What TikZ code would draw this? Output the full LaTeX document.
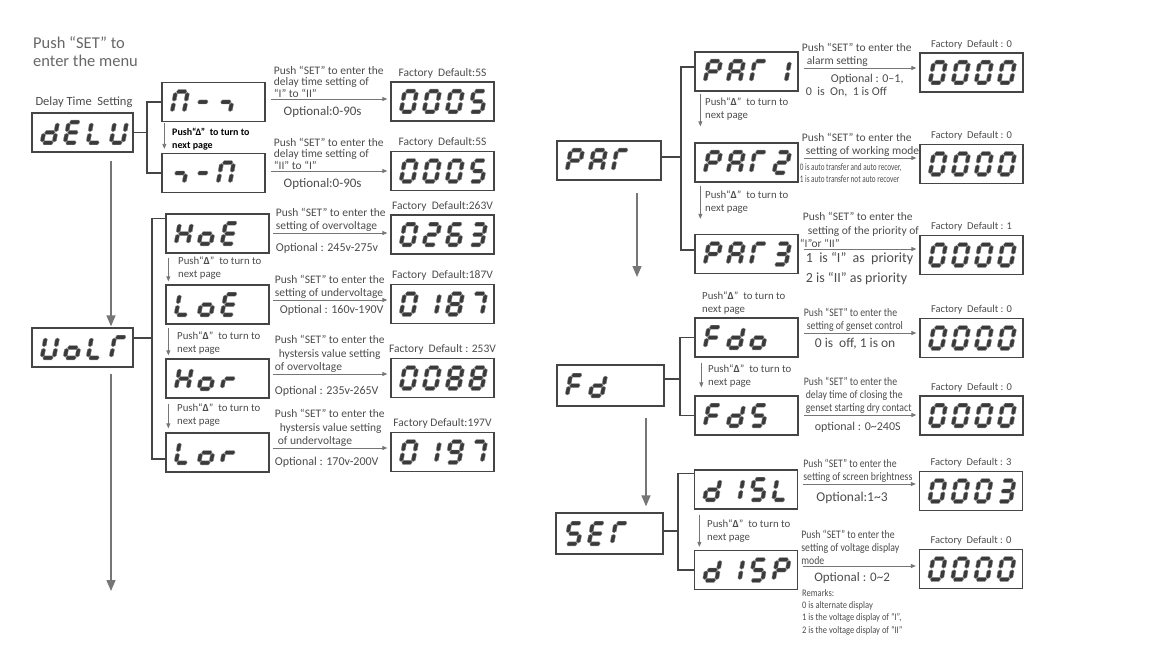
\documentclass[tikz,border=0pt]{standalone}
\usepackage{fontspec}
\setmainfont{Carlito}
\newfontfamily\narrowfont[FakeStretch=0.85]{Carlito}
\newfontfamily\tightfont[FakeStretch=0.72]{Carlito}
\usetikzlibrary{calc,arrows.meta}

\definecolor{txtgray}{HTML}{4C4C4C}
\definecolor{linegray}{HTML}{767676}
\definecolor{boxgray}{HTML}{454545}
\definecolor{seggray}{HTML}{3A3A3A}

% one segment of a display character
\newcommand\lcdh[3]{\fill[segfill] (#1,#3) -- (#1+1.3,#3-2) -- (#2-1.3,#3-2) -- (#2,#3) -- (#2-1.3,#3+2) -- (#1+1.3,#3+2) -- cycle;}
\newcommand\lcdv[3]{\fill[segfill] (#1,#2) -- (#1+2,#2+1.3) -- (#1+2,#3-1.3) -- (#1,#3) -- (#1-2,#3-1.3) -- (#1-2,#2+1.3) -- cycle;}
\newcommand\lcdsega{\lcdh{0.8}{11.2}{-10.3}}
\newcommand\lcdsegg{\lcdh{0.8}{11.2}{0}}
\newcommand\lcdsegd{\lcdh{0.8}{11.2}{10.3}}
\newcommand\lcdsegf{\lcdv{0}{-9.5}{-0.8}}
\newcommand\lcdsege{\lcdv{0}{0.8}{9.5}}
\newcommand\lcdsegb{\lcdv{12}{-9.5}{-0.8}}
\newcommand\lcdsegc{\lcdv{12}{0.8}{9.5}}

% characters as lists of segments
\newcommand\defchar[2]{\expandafter\def\csname lcdchar#1\endcsname{#2}}
\defchar{d}{b,c,d,e,g}
\defchar{E}{a,d,e,f,g}
\defchar{L}{d,e,f}
\defchar{U}{b,c,d,e,f}
\defchar{H}{b,c,e,f,g}
\defchar{o}{c,d,e,g}
\defchar{r}{e,g}
\defchar{G}{a,e,f}
\defchar{P}{a,b,e,f,g}
\defchar{A}{a,b,c,e,f,g}
\defchar{F}{a,e,f,g}
\defchar{n}{a,b,c,e,f}
\defchar{j}{c,g}
\defchar{m}{g}
\defchar{0}{a,b,c,d,e,f}
\defchar{1}{b,c}
\defchar{2}{a,b,d,e,g}
\defchar{3}{a,b,c,d,g}
\defchar{5}{a,c,d,f,g}
\defchar{6}{a,c,d,e,f,g}
\defchar{7}{a,b,c}
\defchar{8}{a,b,c,d,e,f,g}
\defchar{9}{a,b,c,d,f,g}

\tikzset{
  segfill/.style={fill=seggray, draw=seggray!60, line width=0.4pt},
  pics/lcdchar/.style={code={%
    \begin{scope}[xslant=0.18]
      \expandafter\let\expandafter\seglist\csname lcdchar#1\endcsname
      \foreach \s in \seglist {\csname lcdseg\s\endcsname}
    \end{scope}}},
  disp/.style={draw=boxgray, line width=1.3pt, minimum width=103pt, minimum height=39pt, inner sep=0pt},
  txt/.style={inner sep=0pt, text=txtgray, align=left, font=\fontsize{11.5}{13.5}\selectfont},
  ntxt/.style={txt, font=\narrowfont\fontsize{11.5}{13}\selectfont},
  pushtxt/.style={txt, anchor=north west, font=\fontsize{10.8}{12.5}\selectfont},
  fdtxt/.style={txt, anchor=base, font=\fontsize{11.5}{13}\selectfont},
  rfdtxt/.style={txt, anchor=base, font=\fontsize{10.5}{12}\selectfont},
  brk/.style={draw=boxgray, line width=1.1pt},
  setarr/.style={draw=linegray, line width=0.9pt, shorten >=3pt, -{Triangle[length=5pt,width=4pt]}},
  pusharr/.style={draw=linegray, line width=0.9pt, -{Triangle[length=5pt,width=4pt]}},
  mainarr/.style={draw=linegray, line width=1.3pt, -{Triangle[length=11pt,width=9pt]}},
}

% a row of characters inside a display box
\newcommand\lcd[2]{\foreach \ch [count=\i] in {#2}{\pic at ($(#1.west)+({12.5+23*(\i-1)},0)$) {lcdchar=\ch};}}

\begin{document}
\begin{tikzpicture}[x=1pt,y=-1pt]
\useasboundingbox (0,0) rectangle (1159,650);

% Left menu: delay time and voltage
\node[txt, anchor=north west, text=txtgray!85, font=\fontsize{16.5}{18.5}\selectfont] (menu) at (33,36) {Push “SET” to\\enter the menu};
\node[txt, font=\fontsize{12.5}{14}\selectfont] (dlabel) at (84,102) {Delay Time\ \ Setting};

\node[disp, minimum width=101pt] (dELU) at (82.5,132.5) {};
\node[disp] (nr) at (213.5,102) {};
\node[disp] (rn) at (213.5,173) {};
\node[disp, minimum width=101pt] (UoLF) at (82.5,347.5) {};
\node[disp] (HoE) at (217.5,233.5) {};
\node[disp] (LoE) at (217.5,304.5) {};
\node[disp] (Hor) at (217.5,378.5) {};
\node[disp] (Lor) at (217.5,452.5) {};

% factory default displays
\node[disp] (fnr) at (442.5,101.5) {};
\node[disp] (frn) at (442.5,171) {};
\node[disp] (fHoE) at (442.5,234.5) {};
\node[disp] (fLoE) at (442.5,304) {};
\node[disp] (fHor) at (442.5,378) {};
\node[disp] (fLor) at (442.5,452) {};

\lcd{dELU}{d,E,L,U}
\lcd{nr}{n,m,j}
\lcd{rn}{j,m,n}
\lcd{UoLF}{U,o,L,G}
\lcd{HoE}{H,o,E}
\lcd{LoE}{L,o,E}
\lcd{Hor}{H,o,r}
\lcd{Lor}{L,o,r}
\lcd{fnr}{0,0,0,5}
\lcd{frn}{0,0,0,5}
\lcd{fHoE}{0,2,6,3}
\lcd{fLoE}{0,1,8,7}
\lcd{fHor}{0,0,8,8}
\lcd{fLor}{0,1,9,7}

% Brackets
\coordinate (bL1) at (147,132.5);
\draw[brk] (dELU.east) -- (bL1);
\draw[brk] (nr.west) -| (bL1) |- (rn.west);
\coordinate (bL2) at (152,338);
\draw[brk] (UoLF.east |- bL2) -- (bL2);
\draw[brk] ($(HoE.north west)+(0,5)$) -| (bL2) |- ($(Lor.west)+(0,6.5)$);

% Main arrows
\coordinate (endL) at (111,591);
\draw[mainarr] ($(dELU.south)+(28.5,8)$) -- ($(UoLF.north)+(28.5,-1)$);
\draw[mainarr] ($(UoLF.south)+(28.5,6)$) -- (endL);

% Next page arrows
\draw[pusharr] ($(nr.south west)+(3,1)$) -- ($(rn.north west)+(3,-4)$);
\draw[pusharr] ($(HoE.south west)+(3,4)$) -- ($(LoE.north west)+(3,-3)$);
\draw[pusharr] ($(LoE.south west)+(3,3)$) -- ($(Hor.north west)+(3,-3)$);
\draw[pusharr] ($(Hor.south west)+(3,5)$) -- ($(Lor.north west)+(3,-4)$);
\node[pushtxt, text=black, font=\bfseries\fontsize{10}{13}\selectfont] at (172,128) {Push“Δ”\ \ to turn to\\next page};
\node[pushtxt] at (178,257) {Push“\textbf{Δ}”\ \ to turn to\\next page};
\node[pushtxt] at (177,332) {Push“\textbf{Δ}”\ \ to turn to\\next page};
\node[pushtxt] at (177,404) {Push“\textbf{Δ}”\ \ to turn to\\next page};

% Rows of the left menu
\coordinate (anr) at ($(nr.east)+(5,-3)$);
\draw[setarr] (anr) -- (anr -| fnr.west);
\node[txt, anchor=south west, font=\fontsize{11.5}{11.8}\selectfont] at ($(anr)+(3,-1)$) {Push “SET” to enter the\\delay time setting of\\“I” to “II”};
\node[txt, anchor=north, font=\fontsize{13}{15}\selectfont] at ($(anr)+(52,7)$) {Optional:0-90s};
\node[fdtxt] at ($(fnr.north)+(0,-5)$) {Factory\ \ Default:5S};

\coordinate (arn) at ($(rn.east)+(5,-2)$);
\draw[setarr] (arn) -- (arn -| frn.west);
\node[txt, anchor=south west, font=\fontsize{11.5}{11.8}\selectfont] at ($(arn)+(3,-1)$) {Push “SET” to enter the\\delay time setting of\\“II” to “I”};
\node[txt, anchor=north, font=\fontsize{13}{15}\selectfont] at ($(arn)+(52,7)$) {Optional:0-90s};
\node[fdtxt] at ($(frn.north)+(0,-5)$) {Factory\ \ Default:5S};

\coordinate (aHoE) at ($(HoE.east)+(3,-0.5)$);
\draw[setarr] (aHoE) -- (aHoE -| fHoE.west);
\node[txt, anchor=south west] at ($(aHoE)+(3,-1)$) {Push “SET” to enter the\\setting of overvoltage};
\node[txt, anchor=north west, font=\fontsize{12}{14}\selectfont] at ($(aHoE)+(3,10)$) {Optional : 245v-275v};
\node[fdtxt] at ($(fHoE.north)+(0,-5)$) {Factory\ \ Default:263V};

\coordinate (aLoE) at ($(LoE.east)+(3,-4.5)$);
\draw[setarr] (aLoE) -- (aLoE -| fLoE.west);
\node[txt, anchor=south west] at ($(aLoE)+(2,-1)$) {Push “SET” to enter the\\setting of undervoltage};
\node[txt, anchor=north west, font=\fontsize{12}{14}\selectfont] at ($(aLoE)+(7,5)$) {Optional : 160v-190V};
\node[fdtxt] at ($(fLoE.north)+(0,-5)$) {Factory\ \ Default:187V};

\coordinate (aHor) at ($(Hor.east)+(3,-4.5)$);
\draw[setarr] (aHor) -- (aHor -| fHor.west);
\node[txt, anchor=south west] at ($(aHor)+(2,-1)$) {Push “SET” to enter the\\\hspace{4pt}hystersis value setting\\of overvoltage};
\node[txt, anchor=north west, font=\fontsize{12}{14}\selectfont] at ($(aHor)+(2,12)$) {Optional : 235v-265V};
\node[fdtxt] at ($(fHor.north)+(0,-5)$) {Factory\ \ Default : 253V};

\coordinate (aLor) at ($(Lor.east)+(3,-4.5)$);
\draw[setarr] (aLor) -- (aLor -| fLor.west);
\node[txt, anchor=south west] at ($(aLor)+(2,-1)$) {Push “SET” to enter the\\\hspace{5pt}hystersis value setting\\\hspace{3pt}of undervoltage};
\node[txt, anchor=north west, font=\fontsize{12}{14}\selectfont] at ($(aLor)+(2,9)$) {Optional : 170v-200V};
\node[fdtxt] at ($(fLor.north)+(0,-5)$) {Factory Default:197V};

% Right menu: parameters, genset and display
\node[disp, minimum width=104pt] (PAr) at (609,160.5) {};
\node[disp] (PAR1) at (746.5,71.5) {};
\node[disp] (PAR2) at (746.5,162.5) {};
\node[disp] (PAR3) at (746.5,254) {};
\node[disp, minimum width=107pt, minimum height=41pt] (Fd) at (610.5,385.5) {};
\node[disp] (Fdo) at (746.5,337.5) {};
\node[disp] (FdS) at (746.5,415.5) {};
\node[disp, minimum width=107pt, minimum height=41pt] (SET) at (609.5,533.5) {};
\node[disp] (dISL) at (746,489.5) {};
\node[disp] (dISP) at (746,570) {};

\node[disp] (fPAR1) at (971.5,72.5) {};
\node[disp] (fPAR2) at (971.5,164) {};
\node[disp] (fPAR3) at (971.5,255) {};
\node[disp] (fFdo) at (971.5,338) {};
\node[disp] (fFdS) at (971.5,415.5) {};
\node[disp] (fdISL) at (971,491) {};
\node[disp] (fdISP) at (971,569) {};

\lcd{PAr}{P,A,G}
\lcd{PAR1}{P,A,G,1}
\lcd{PAR2}{P,A,G,2}
\lcd{PAR3}{P,A,G,3}
\lcd{Fd}{F,d}
\lcd{Fdo}{F,d,o}
\lcd{FdS}{F,d,5}
\lcd{SET}{5,E,G}
\lcd{dISL}{d,1,5,L}
\lcd{dISP}{d,1,5,P}
\lcd{fPAR1}{0,0,0,0}
\lcd{fPAR2}{0,0,0,0}
\lcd{fPAR3}{0,0,0,0}
\lcd{fFdo}{0,0,0,0}
\lcd{fFdS}{0,0,0,0}
\lcd{fdISL}{0,0,0,3}
\lcd{fdISP}{0,0,0,0}

% Brackets
\coordinate (bR1) at (681,157);
\draw[brk] (PAr.east |- bR1) -- (bR1);
\draw[brk] ($(PAR1.west)+(0,-4.5)$) -| (bR1) |- ($(PAR3.west)+(0,-4)$);
\coordinate (bR2) at (680,379);
\draw[brk] (Fd.east |- bR2) -- (bR2);
\draw[brk] (Fdo.west) -| (bR2) |- (FdS.west);
\coordinate (bR3) at (678,531);
\draw[brk] (SET.east |- bR3) -- (bR3);
\draw[brk] ($(dISL.north west)+(0,4)$) -| (bR3) |- (dISP.west);

% Main arrows
\coordinate (endR) at (637,277);
\draw[mainarr] ($(PAr.south)+(28,12)$) -- (endR);
\draw[mainarr] ($(Fd.south)+(35.5,11)$) -- ($(SET.north)+(36.5,-6)$);

% Next page arrows
\draw[pusharr] ($(PAR1.south west)+(6,2)$) -- ($(PAR2.north west)+(6,-16)$);
\draw[pusharr] ($(PAR2.south west)+(6,3)$) -- ($(PAR3.north west)+(6,-15)$);
\draw[pusharr] ($(Fdo.south west)+(7,5)$) -- ($(FdS.north west)+(7,-8)$);
\draw[pusharr] ($(dISL.south west)+(5.5,5)$) -- ($(dISP.north west)+(5.5,-3)$);
\node[pushtxt] at (705,98) {Push“\textbf{Δ}”\ \ to turn to\\next page};
\node[pushtxt] at (705,191) {Push“\textbf{Δ}”\ \ to turn to\\next page};
\node[pushtxt] at (702,292) {Push“\textbf{Δ}”\ \ to turn to\\next page};
\node[pushtxt] at (708,365) {Push“\textbf{Δ}”\ \ to turn to\\next page};
\node[pushtxt] at (707,520) {Push“\textbf{Δ}”\ \ to turn to\\next page};

% Rows of the right menu
\coordinate (aPAR1) at ($(PAR1.east)+(5,-3.5)$);
\draw[setarr] (aPAR1) -- (aPAR1 -| fPAR1.west);
\node[txt, anchor=south west] at ($(aPAR1)+(-2,-1)$) {Push “SET” to enter the\\\hspace{5pt}alarm setting};
\node[txt, anchor=north west, font=\fontsize{12}{12.5}\selectfont] at ($(aPAR1)+(2,6)$) {\hspace{25pt}Optional : 0–1,\\0\ \ is\ \ On,\ \ 1 is Off};
\node[rfdtxt] at ($(fPAR1.north)+(0,-5)$) {Factory\ \ Default : 0};

\coordinate (aPAR2) at ($(PAR2.east)+(5,-4.5)$);
\draw[setarr] (aPAR2) -- (aPAR2 -| fPAR2.west);
\node[txt, anchor=south west] at ($(aPAR2)+(-2,-1)$) {Push “SET” to enter the\\\hspace{4pt}setting of working mode};
\node[txt, anchor=north west, font=\tightfont\fontsize{10}{12}\selectfont] at ($(aPAR2)+(-4,5)$) {0 is auto transfer and auto recover,\\1 is auto transfer not auto recover};
\node[rfdtxt] at ($(fPAR2.north)+(0,-5)$) {Factory\ \ Default : 0};

\coordinate (aPAR3) at ($(PAR3.east)+(5,-5)$);
\draw[setarr] (aPAR3) -- (aPAR3 -| fPAR3.west);
\node[txt, anchor=south west] at ($(aPAR3)+(-1,-1)$) {Push “SET” to enter the\\\hspace{5pt}setting of the priority of\\\hspace{-3pt}“I”or “II”};
\node[txt, anchor=north west, font=\fontsize{14}{20}\selectfont] at ($(aPAR3)+(2,3)$) {1\ \ is “I”\ \ as\ \ priority\\2 is “II” as priority};
\node[rfdtxt] at ($(fPAR3.north)+(0,-5)$) {Factory\ \ Default : 1};

\coordinate (aFdo) at ($(Fdo.east)+(5,-4.5)$);
\draw[setarr] (aFdo) -- (aFdo -| fFdo.west);
\node[ntxt, anchor=south west] at ($(aFdo)+(0,-1)$) {Push “SET” to enter the\\\hspace{3pt}setting of genset control};
\node[txt, anchor=north west, font=\fontsize{13.5}{15}\selectfont] at ($(aFdo)+(11,5)$) {0 is\ \ off, 1 is on};
\node[rfdtxt] at ($(fFdo.north)+(0,-5)$) {Factory\ \ Default : 0};

\coordinate (aFdS) at ($(FdS.east)+(5,-0.5)$);
\draw[setarr] (aFdS) -- (aFdS -| fFdS.west);
\node[ntxt, anchor=south west] at ($(aFdS)+(0,-1)$) {Push “SET” to enter the\\\hspace{2pt}delay time of closing the\\\hspace{2pt}genset starting dry contact};
\node[txt, anchor=north west, font=\fontsize{12}{14}\selectfont] at ($(aFdS)+(11,7)$) {optional : 0\textasciitilde240S};
\node[rfdtxt] at ($(fFdS.north)+(0,-5)$) {Factory\ \ Default : 0};

\coordinate (adISL) at ($(dISL.east)+(5,-5.5)$);
\draw[setarr] (adISL) -- (adISL -| fdISL.west);
\node[ntxt, anchor=south west] at ($(adISL)+(0,-1)$) {Push “SET” to enter the\\setting of screen brightness};
\node[txt, anchor=north west, font=\fontsize{13.5}{15}\selectfont] at ($(adISL)+(13,8)$) {Optional:1\textasciitilde3};
\node[rfdtxt] at ($(fdISL.north)+(0,-5)$) {Factory\ \ Default : 3};

\coordinate (adISP) at ($(dISP.east)+(5,-4)$);
\draw[setarr] (adISP) -- (adISP -| fdISP.west);
\node[ntxt, anchor=south west] at ($(adISP)+(-2,-1)$) {Push “SET” to enter the\\setting of voltage display\\mode};
\node[txt, anchor=north west, font=\fontsize{13}{15}\selectfont] at ($(adISP)+(11,6)$) {Optional : 0\textasciitilde2};
\node[txt, anchor=north west, font=\narrowfont\fontsize{10}{12.3}\selectfont] (remarks) at (802,589) {Remarks:\\0 is alternate display\\1 is the voltage display of “I”,\\2 is the voltage display of “II”};
\node[rfdtxt] at ($(fdISP.north)+(0,-5)$) {Factory\ \ Default : 0};

\end{tikzpicture}
\end{document}
